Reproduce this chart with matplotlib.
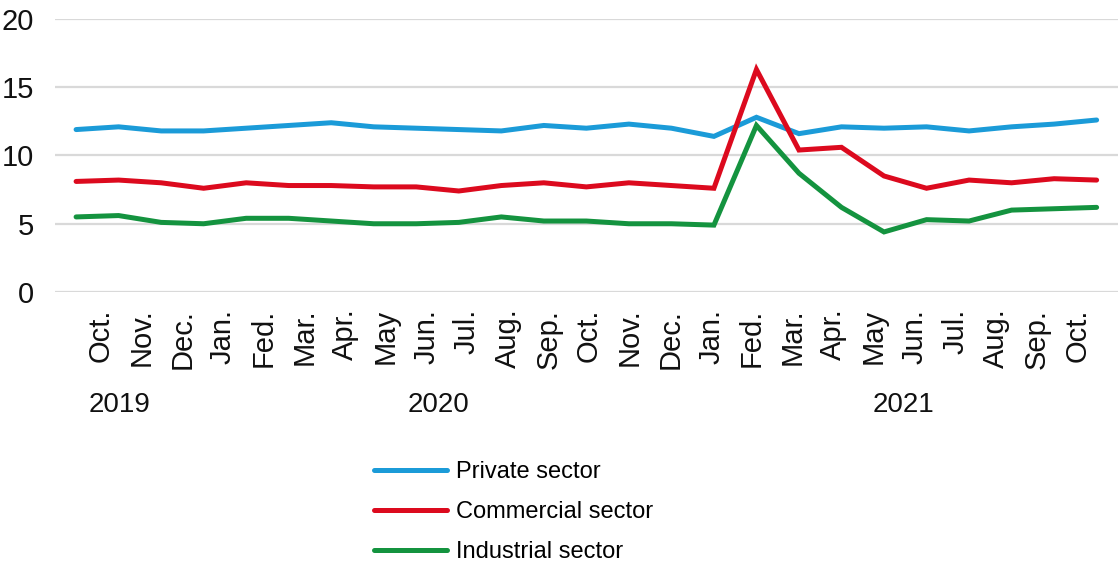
import numpy as np
import matplotlib
matplotlib.use("Agg")
import matplotlib.pyplot as plt

# monthly values, Oct 2019 .. Oct 2021
months = ["Oct.", "Nov.", "Dec.", "Jan.", "Fed.", "Mar.", "Apr.", "May", "Jun.",
          "Jul.", "Aug.", "Sep.", "Oct.", "Nov.", "Dec.", "Jan.", "Fed.", "Mar.",
          "Apr.", "May", "Jun.", "Jul.", "Aug.", "Sep.", "Oct."]
private = [11.9, 12.1, 11.8, 11.8, 12.0, 12.2, 12.4, 12.1, 12.0, 11.9, 11.8, 12.2, 12.0,
           12.3, 12.0, 11.4, 12.8, 11.6, 12.1, 12.0, 12.1, 11.8, 12.1, 12.3, 12.6]
commercial = [8.1, 8.2, 8.0, 7.6, 8.0, 7.8, 7.8, 7.7, 7.7, 7.4, 7.8, 8.0, 7.7,
              8.0, 7.8, 7.6, 16.3, 10.4, 10.6, 8.5, 7.6, 8.2, 8.0, 8.3, 8.2]
industrial = [5.5, 5.6, 5.1, 5.0, 5.4, 5.4, 5.2, 5.0, 5.0, 5.1, 5.5, 5.2, 5.2,
              5.0, 5.0, 4.9, 12.2, 8.7, 6.2, 4.4, 5.3, 5.2, 6.0, 6.1, 6.2]
years = ["2019", "2020", "2021"]
year_pos = [1.03, 8.52, 19.46]

series = [("Private sector", private, "#1b9bd8"),
          ("Commercial sector", commercial, "#dc0a1e"),
          ("Industrial sector", industrial, "#14933f")]

plt.rcParams["font.family"] = ["Liberation Sans", "DejaVu Sans"]

fig = plt.figure(figsize=(11.19, 5.67), dpi=100)
ax = fig.add_axes([0.049, 0.485, 0.950, 0.4815])

x = np.arange(len(months))
for name, vals, col in series:
    ax.plot(x, vals, color=col, lw=3.6, label=name, solid_capstyle="round",
            solid_joinstyle="miter")

ax.set_xlim(-0.5, 24.5)
ax.set_ylim(0, 20)
ax.set_yticks([0, 5, 10, 15, 20])
ax.grid(axis="y", color="#d9d9d9", lw=1.6)
ax.set_axisbelow(True)
for s in ax.spines.values():
    s.set_visible(False)

# month labels sit on a slightly tighter spacing than the points
tick_pos = 0.58 + 0.957 * x
ax.set_xticks(tick_pos)
ax.set_xticklabels(months, rotation=90, fontsize=21, color="#111111")
ax.tick_params(axis="x", length=0, pad=12)
ax.tick_params(axis="y", length=0, pad=15, labelsize=21, labelcolor="#111111")

for yr, xp in zip(years, year_pos):
    ax.text(xp, -0.415, yr, transform=ax.get_xaxis_transform(), ha="center",
            va="center", fontsize=20, color="#111111")

fig.legend(loc="upper left", bbox_to_anchor=(0.334, 0.187), frameon=False,
           fontsize=17, handlelength=3.1, handletextpad=0.38, labelspacing=0.76,
           borderaxespad=0, borderpad=0)

fig.savefig("out.png", dpi=100)
